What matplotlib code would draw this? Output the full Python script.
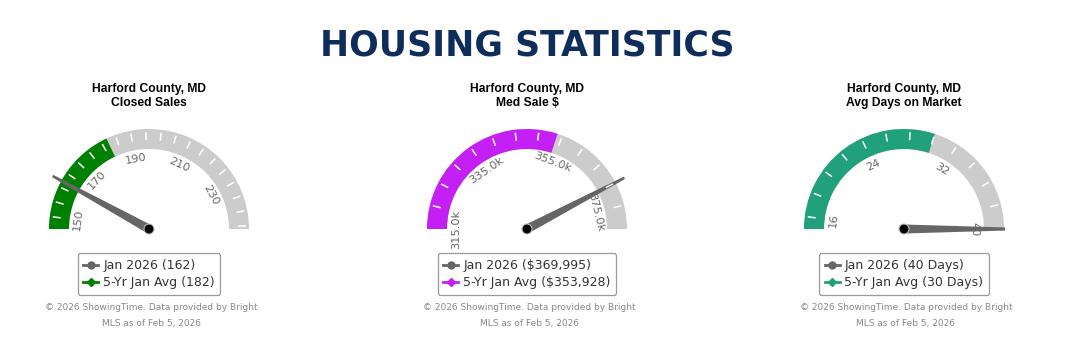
import numpy as np
import matplotlib.pyplot as plt
from matplotlib.patches import Wedge, Polygon, Circle
from matplotlib.lines import Line2D

# data
gaugeTitles = ['Closed Sales', 'Med Sale $', 'Avg Days on Market']
countyName = 'Harford County, MD'
currentValues = [162, 369995, 40]
avgValues = [182, 353928, 30]
scaleMin = [146, 315000, 15]
scaleMax = [246, 380000, 40]
labelTicks = [[150, 170, 190, 210, 230],
              [315000, 335000, 355000, 375000],
              [16, 24, 32, 40]]
minorStep = [5, 5000, 2]
currentLabels = ['Jan 2026 (162)', 'Jan 2026 ($369,995)', 'Jan 2026 (40 Days)']
avgLabels = ['5-Yr Jan Avg (182)', '5-Yr Jan Avg ($353,928)', '5-Yr Jan Avg (30 Days)']
bandColors = ['#008000', '#c41ff5', '#20a07b']
footerText = '\u00a9 2026 ShowingTime. Data provided by Bright\nMLS as of Feb 5, 2026'

W, H = 1069, 354
centersX = [149, 527, 904]
centerY = 229
rOuter, rInner = 100, 80


def valueToAngle(v, vmin, vmax):
    return 180.0 - 180.0 * (v - vmin) / (vmax - vmin)


def tickText(v, i):
    if i == 1:
        return '%.1fk' % (v / 1000.0)
    return str(v)


def drawGauge(fig, i):
    cx = centersX[i]
    ax = fig.add_axes([(cx - 101) / W, 1 - (centerY + 12) / H, 202 / W, 127 / H])
    ax.set_xlim(-101, 101)
    ax.set_ylim(-12, 115)
    ax.set_aspect('equal')
    ax.axis('off')
    vmin, vmax = scaleMin[i], scaleMax[i]

    # gray background band then coloured part up to the 5-yr average
    ax.add_patch(Wedge((0, 0), rOuter, 0, 180, width=rOuter - rInner, color='#cccccc', lw=0))
    aAvg = valueToAngle(avgValues[i], vmin, vmax)
    ax.add_patch(Wedge((0, 0), rOuter, aAvg, 180, width=rOuter - rInner, color=bandColors[i], lw=0))

    # small white ticks (none at either end)
    for t in np.arange(labelTicks[i][0], vmax, minorStep[i]):
        if t <= vmin:
            continue
        a = np.radians(valueToAngle(t, vmin, vmax))
        ax.plot([89 * np.cos(a), 97 * np.cos(a)], [89 * np.sin(a), 97 * np.sin(a)],
                color='white', lw=1.1, solid_capstyle='butt')

    # labels along the inside of the band
    for t in labelTicks[i]:
        ang = valueToAngle(t, vmin, vmax)
        a = np.radians(ang)
        ax.text(71 * np.cos(a), 71 * np.sin(a), tickText(t, i), rotation=ang - 90,
                rotation_mode='anchor', ha='center', va='center', fontsize=8.2,
                color='#666666', family='DejaVu Sans')

    # needle
    a = np.radians(valueToAngle(currentValues[i], vmin, vmax))
    d = np.array([np.cos(a), np.sin(a)])
    n = np.array([-np.sin(a), np.cos(a)])
    pts = [4.5 * n, 110 * d + 1.3 * n, 110 * d - 1.3 * n, -4.5 * n]
    ax.add_patch(Polygon(pts, closed=True, color='#666666', lw=0))
    ax.add_patch(Circle((0, 0), 5, facecolor='black', edgecolor='#bbbbbb', lw=0.8, zorder=5))

    # titles above the gauge
    fig.text(cx / W, 1 - 89 / H, countyName, ha='center', va='center', fontsize=8.7,
             fontweight='bold', family='Liberation Sans')
    fig.text(cx / W, 1 - 103 / H, gaugeTitles[i], ha='center', va='center', fontsize=8.7,
             fontweight='bold', family='Liberation Sans')

    handles = [Line2D([], [], color='#666666', marker='o', markersize=5, lw=2),
               Line2D([], [], color=bandColors[i], marker='D', markersize=4, lw=2)]
    leg = fig.legend(handles, [currentLabels[i], avgLabels[i]], loc='upper center',
                     bbox_to_anchor=(cx / W, 1 - 247 / H), bbox_transform=fig.transFigure,
                     handlelength=1.2, handletextpad=0.4, labelspacing=0.35,
                     borderpad=0.45, frameon=True, fancybox=True, edgecolor='#999999',
                     framealpha=1, prop={'family': 'DejaVu Sans', 'size': 9})
    for txt in leg.get_texts():
        txt.set_color('#333333')
    leg.get_frame().set_linewidth(0.9)

    fig.text((cx + 2) / W, 1 - 315.5 / H, footerText, ha='center', va='center', fontsize=6.5,
             color='#888888', family='DejaVu Sans', linespacing=2.1)


fig = plt.figure(figsize=(W / 100, H / 100), dpi=100)
fig.text(527.5 / W, 1 - 46 / H, 'HOUSING STATISTICS', ha='center', va='center',
         fontsize=25, fontweight='bold', color='#0e2d5a', family='DejaVu Sans')

for i in range(3):
    drawGauge(fig, i)

fig.savefig('out.png', dpi=100)
